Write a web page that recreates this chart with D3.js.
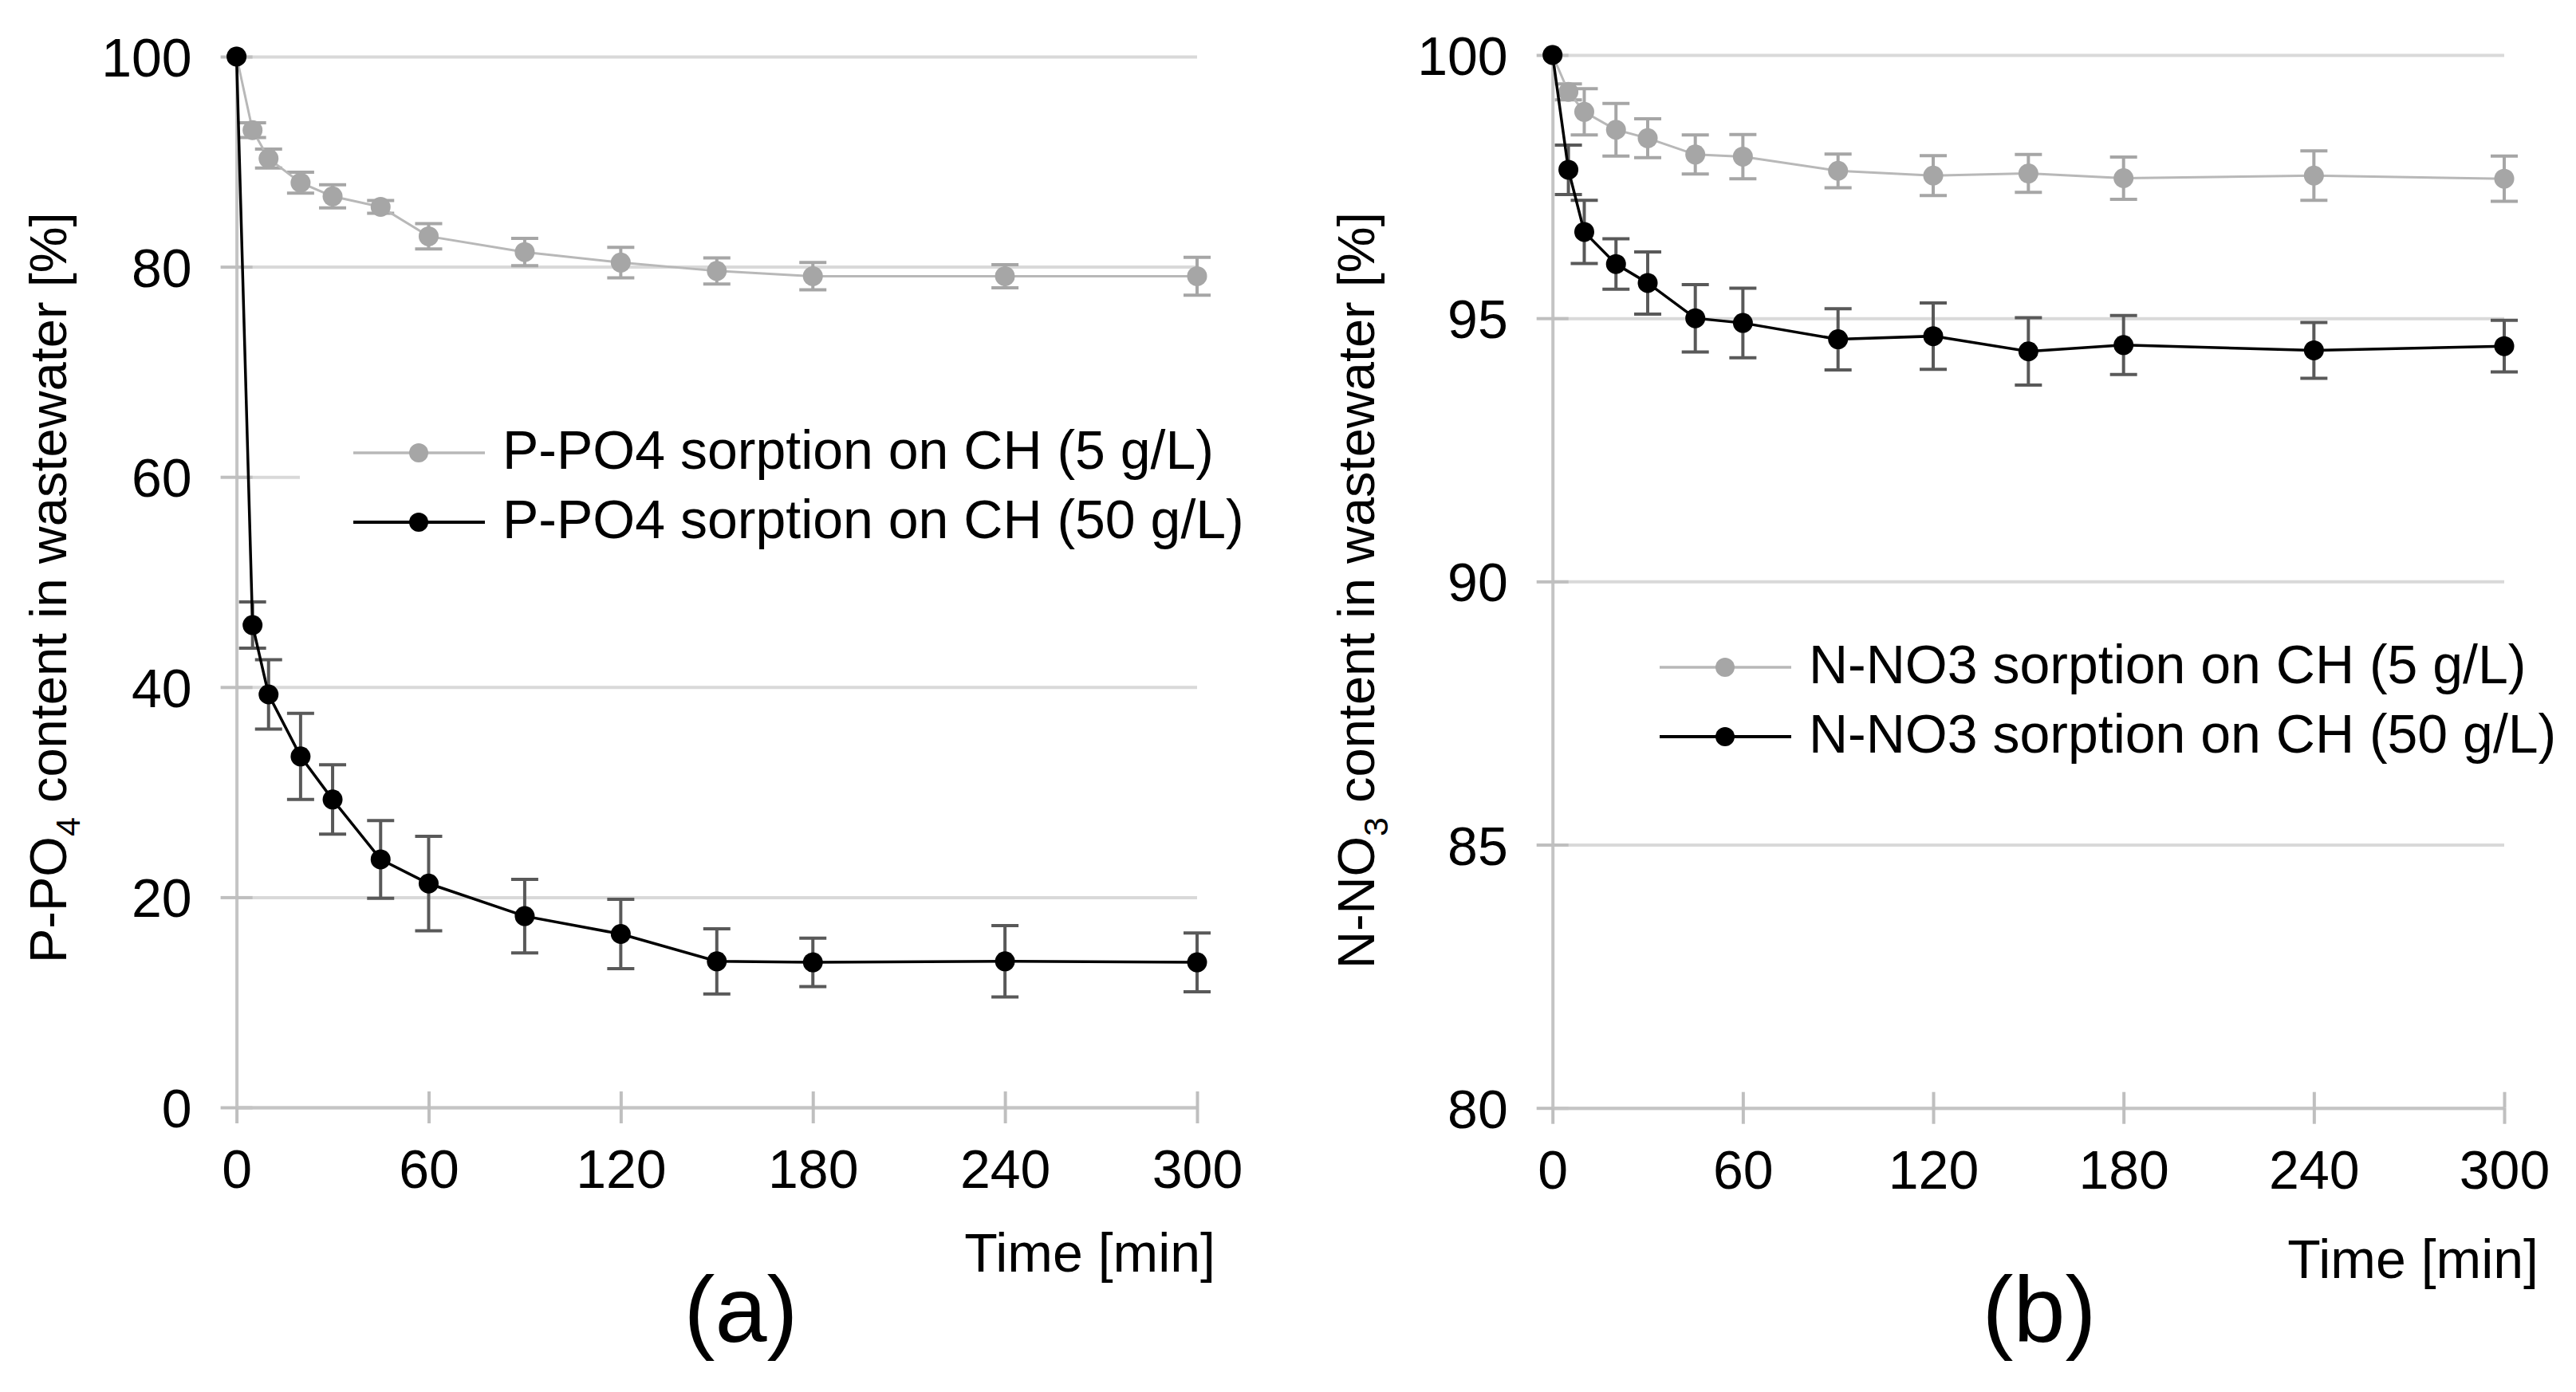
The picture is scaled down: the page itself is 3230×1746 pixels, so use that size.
<!DOCTYPE html>
<html>
<head>
<meta charset="utf-8">
<script src="https://cdn.jsdelivr.net/npm/d3@7"></script>
<style>
  body { margin: 0; background: #fff; }
  svg text { font-family: "Liberation Sans", Arial, sans-serif; fill: #000; }
</style>
</head>
<body>
<div id="chart"></div>
<script>
// ------------------------------------------------
// Data
// ------------------------------------------------
const timeMin = [0, 5, 10, 20, 30, 45, 60, 90, 120, 150, 180, 240, 300];
const xTicks = [0, 60, 120, 180, 240, 300];

// (a) P-PO4
const po4Low = [100, 93.0, 90.3, 88.0, 86.7, 85.7, 82.9, 81.4, 80.4, 79.6, 79.1, 79.1, 79.1];
const po4LowErr = [0, 0.7, 0.9, 1.0, 1.1, 0.6, 1.2, 1.3, 1.45, 1.25, 1.3, 1.1, 1.8];
const po4High = [100, 45.9, 39.3, 33.4, 29.3, 23.6, 21.3, 18.2, 16.5, 13.9, 13.8, 13.9, 13.8];
const po4HighErr = [0, 2.2, 3.3, 4.1, 3.3, 3.7, 4.5, 3.5, 3.3, 3.1, 2.3, 3.4, 2.8];
const po4Ticks = [0, 20, 40, 60, 80, 100];

// (b) N-NO3
const no3Low = [100, 99.3, 98.92, 98.58, 98.42, 98.11, 98.07, 97.8, 97.71, 97.75, 97.66, 97.71, 97.65];
const no3LowErr = [0, 0.15, 0.44, 0.5, 0.37, 0.37, 0.42, 0.32, 0.38, 0.36, 0.4, 0.47, 0.43];
const no3High = [100, 97.82, 96.64, 96.03, 95.67, 95.0, 94.91, 94.6, 94.66, 94.37, 94.49, 94.39, 94.47];
const no3HighErr = [0, 0.47, 0.6, 0.48, 0.59, 0.64, 0.66, 0.58, 0.63, 0.64, 0.56, 0.53, 0.49];
const no3Ticks = [80, 85, 90, 95, 100];

const W = 3230, H = 1746;
const FS = 68;

const svg = d3.select("#chart").append("svg")
  .attr("width", W).attr("height", H)
  .attr("viewBox", "0 0 " + W + " " + H);

//=================================================
// one panel
//=================================================
function drawPanel(p) {
  const x = d3.scaleLinear().domain([0, 300]).range([p.x0, p.x1]);
  const y = d3.scaleLinear().domain(p.yDomain).range([p.yBot, p.yTop]);
  const g = svg.append("g");

  // gridlines
  const grid = g.append("g").attr("transform", "translate(" + p.x0 + ",0)")
    .call(d3.axisRight(y).tickValues(p.yTicks).tickSize(p.x1 - p.x0).tickFormat(""));
  grid.select(".domain").remove();
  grid.selectAll("line").attr("stroke", "#d9d9d9").attr("stroke-width", 4);

  // y axis: cross ticks + labels
  const yl = g.append("g").attr("transform", "translate(" + p.x0 + ",0)")
    .call(d3.axisLeft(y).tickValues(p.yTicks).tickSize(20).tickSizeOuter(0).tickPadding(36));
  const yr = g.append("g").attr("transform", "translate(" + p.x0 + ",0)")
    .call(d3.axisRight(y).tickValues(p.yTicks).tickSize(20).tickSizeOuter(0).tickFormat(""));
  yr.select(".domain").remove();

  // x axis: cross ticks + labels
  const xb = g.append("g").attr("transform", "translate(0," + p.yBot + ")")
    .call(d3.axisBottom(x).tickValues(xTicks).tickSize(20).tickSizeOuter(0).tickPadding(33));
  const xt = g.append("g").attr("transform", "translate(0," + p.yBot + ")")
    .call(d3.axisTop(x).tickValues(xTicks.slice(1)).tickSize(20).tickSizeOuter(0).tickFormat(""));
  xt.select(".domain").remove();

  [yl, yr, xb, xt].forEach(a => {
    a.selectAll("line").attr("stroke", "#bfbfbf").attr("stroke-width", 4);
    a.selectAll(".domain").attr("stroke", "#c4c4c4").attr("stroke-width", 4);
    a.selectAll("text").attr("font-size", FS).attr("fill", "#000")
      .style("font-family", "'Liberation Sans', Arial, sans-serif");
  });
  yl.selectAll("text").attr("dy", "0.36em");
  xb.selectAll("text").attr("dy", "0.71em");

  // series
  p.series.forEach(s => {
    const pts = timeMin.map((t, i) => ({ t: t, v: s.values[i], e: s.err[i] }));
    const eb = g.append("g").attr("stroke", s.errColor).attr("stroke-width", 4);
    pts.filter(d => d.e > 0).forEach(d => {
      eb.append("line").attr("x1", x(d.t)).attr("x2", x(d.t))
        .attr("y1", y(d.v + d.e)).attr("y2", y(d.v - d.e));
      eb.append("line").attr("x1", x(d.t) - 17).attr("x2", x(d.t) + 17)
        .attr("y1", y(d.v + d.e)).attr("y2", y(d.v + d.e));
      eb.append("line").attr("x1", x(d.t) - 17).attr("x2", x(d.t) + 17)
        .attr("y1", y(d.v - d.e)).attr("y2", y(d.v - d.e));
    });
    g.append("path").datum(pts)
      .attr("fill", "none").attr("stroke", s.lineColor).attr("stroke-width", s.lineWidth)
      .attr("d", d3.line().x(d => x(d.t)).y(d => y(d.v)));
    g.selectAll(null).data(pts).enter().append("circle")
      .attr("cx", d => x(d.t)).attr("cy", d => y(d.v)).attr("r", 12.5)
      .attr("fill", s.markColor);
  });

  // legend
  const lg = g.append("g");
  lg.append("rect").attr("x", p.leg.x - 67).attr("y", p.leg.y - 55)
    .attr("width", 1190).attr("height", 195).attr("fill", "#fff");
  p.series.forEach((s, i) => {
    const ly = p.leg.y + i * 87;
    lg.append("line").attr("x1", p.leg.x).attr("x2", p.leg.x + 165)
      .attr("y1", ly).attr("y2", ly)
      .attr("stroke", s.lineColor).attr("stroke-width", s.lineWidth + 0.5);
    lg.append("circle").attr("cx", p.leg.x + 82).attr("cy", ly).attr("r", 12)
      .attr("fill", s.markColor);
    lg.append("text").attr("x", p.leg.x + 187).attr("y", ly + 20)
      .attr("font-size", FS).text(s.name);
  });

  // y title with subscript
  const yt = g.append("text").attr("font-size", 65)
    .attr("transform", "translate(" + p.titleX + "," + p.titleY + ") rotate(-90)");
  yt.append("tspan").text(p.titleMain);
  yt.append("tspan").attr("font-size", 43).attr("dy", 17).text(p.titleSub);
  yt.append("tspan").attr("dy", -17).text(" content in wastewater [%]");

  // x title + panel letter
  g.append("text").attr("x", p.timeX).attr("y", p.timeY).attr("text-anchor", "end")
    .attr("font-size", FS).text("Time [min]");
  g.append("text").attr("x", p.letterX).attr("y", 1683).attr("text-anchor", "middle")
    .attr("font-size", 117).text(p.letter);
}

drawPanel({
  x0: 296.6, x1: 1501, yTop: 71, yBot: 1389, yDomain: [0, 100], yTicks: po4Ticks,
  series: [
    { name: "P-PO4 sorption on CH (5 g/L)", values: po4Low, err: po4LowErr,
      lineColor: "#b8b8b8", lineWidth: 3, markColor: "#a6a6a6", errColor: "#a6a6a6" },
    { name: "P-PO4 sorption on CH (50 g/L)", values: po4High, err: po4HighErr,
      lineColor: "#000", lineWidth: 3.5, markColor: "#000", errColor: "#595959" }
  ],
  leg: { x: 443, y: 568 },
  titleX: 83, titleY: 1208, titleMain: "P-PO", titleSub: "4",
  timeX: 1524, timeY: 1595, letterX: 929, letter: "(a)"
});

drawPanel({
  x0: 1946.7, x1: 3140, yTop: 69, yBot: 1389.7, yDomain: [80, 100], yTicks: no3Ticks,
  series: [
    { name: "N-NO3 sorption on CH (5 g/L)", values: no3Low, err: no3LowErr,
      lineColor: "#b8b8b8", lineWidth: 3, markColor: "#a6a6a6", errColor: "#a6a6a6" },
    { name: "N-NO3 sorption on CH (50 g/L)", values: no3High, err: no3HighErr,
      lineColor: "#000", lineWidth: 3.5, markColor: "#000", errColor: "#595959" }
  ],
  leg: { x: 2081, y: 837 },
  titleX: 1723, titleY: 1215, titleMain: "N-NO", titleSub: "3",
  timeX: 3183, timeY: 1603, letterX: 2557, letter: "(b)"
});
</script>
</body>
</html>
